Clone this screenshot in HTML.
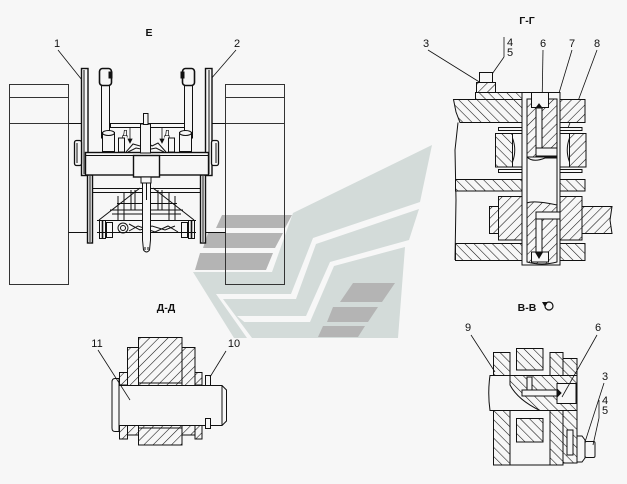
<!DOCTYPE html>
<html><head><meta charset="utf-8">
<style>
html,body{margin:0;padding:0;background:#f7f7f7;}
svg{display:block;}
text{font-family:"Liberation Sans",Arial,sans-serif;fill:#111;}
.t{font-size:10.5px;font-weight:bold;}
.n{font-size:11px;}
</style></head>
<body>
<svg width="627" height="484" viewBox="0 0 627 484" xmlns="http://www.w3.org/2000/svg">
<defs>
<pattern id="hA" width="6.5" height="6.5" patternUnits="userSpaceOnUse" patternTransform="rotate(45)">
<rect width="6.5" height="6.5" fill="#f7f7f7"/><line x1="0" y1="0" x2="0" y2="6.5" stroke="#111" stroke-width="1.1"/></pattern>
<pattern id="hB" width="6.5" height="6.5" patternUnits="userSpaceOnUse" patternTransform="rotate(-45)">
<rect width="6.5" height="6.5" fill="#f7f7f7"/><line x1="0" y1="0" x2="0" y2="6.5" stroke="#111" stroke-width="1.1"/></pattern>
</defs>
<rect width="627" height="484" fill="#f7f7f7"/>

<!-- watermark logo -->
<g fill="#d3dbd9">
<polygon points="432,145 293,213 272,272 193,272 234,338 247,338 216,294 291,294 313,238 420,202"/>
<polygon points="419,209 316,244 296,299 223,299 252,338 264,338 237,316 306,316 330,262 409,240"/>
<polygon points="405,247 334,266 310,322 244,322 258,338 398,338"/>
</g>
<g fill="#b4b4b4">
<polygon points="222,215 292,215 285,228 216,228"/>
<polygon points="208,233 283,233 275,248 203,248"/>
<polygon points="200,253 273,253 266,270 195,270"/>
<polygon points="353,283 395,283 382,302 340,302"/>
<polygon points="333,307 378,307 368,322 327,322"/>
<polygon points="323,326 365,326 358,337 318,337"/>
</g>

<!-- ============ VIEW E ============ -->
<text class="t" x="149" y="36" text-anchor="middle">Е</text>
<text class="n" x="57" y="47" text-anchor="middle">1</text>
<text class="n" x="237" y="47" text-anchor="middle">2</text>
<g stroke="#111" stroke-width="0.8" fill="none">
<line x1="58" y1="50" x2="82" y2="80"/>
<line x1="236" y1="50" x2="210" y2="80"/>
</g>
<g stroke="#333" stroke-width="1" fill="none">
<rect x="9.5" y="84.5" width="59" height="200"/>
<line x1="9.5" y1="97.5" x2="68.5" y2="97.5"/>
<line x1="9.5" y1="123.5" x2="68.5" y2="123.5"/>
<rect x="225.5" y="84.5" width="59" height="200"/>
<line x1="225.5" y1="97.5" x2="284.5" y2="97.5"/>
<line x1="225.5" y1="123.5" x2="284.5" y2="123.5"/>
</g>
<g stroke="#111" stroke-width="1" fill="#f7f7f7">
<line x1="68.5" y1="123.5" x2="82" y2="123.5"/>
<line x1="212" y1="123.5" x2="225.5" y2="123.5"/>
<line x1="68.5" y1="232.5" x2="88" y2="232.5"/>
<line x1="205" y1="232.5" x2="225.5" y2="232.5"/>
<!-- lower frame -->
<line x1="92" y1="188.5" x2="200" y2="188.5"/>
<line x1="92" y1="192.5" x2="200" y2="192.5"/>
<line x1="97" y1="220.5" x2="196" y2="220.5"/>
<line x1="117" y1="203.5" x2="177" y2="203.5"/>
<line x1="140" y1="188" x2="99" y2="220"/>
<line x1="153" y1="188" x2="194" y2="220"/>
<line x1="118" y1="196" x2="118" y2="220"/>
<line x1="124" y1="192" x2="124" y2="220"/>
<line x1="131" y1="190" x2="131" y2="210"/>
<line x1="135" y1="190" x2="135" y2="210"/>
<line x1="158" y1="190" x2="158" y2="210"/>
<line x1="162" y1="190" x2="162" y2="210"/>
<line x1="169" y1="192" x2="169" y2="220"/>
<line x1="175" y1="196" x2="175" y2="220"/>
<line x1="110" y1="210" x2="183" y2="210"/>
<line x1="112" y1="214" x2="181" y2="214"/>
<rect x="99.5" y="220.5" width="6" height="18"/>
<rect x="106.5" y="222.5" width="6" height="15"/>
<line x1="102.5" y1="221" x2="102.5" y2="238" stroke-width="1.6"/>
<rect x="181.5" y="222.5" width="6" height="15"/>
<rect x="188.5" y="220.5" width="6" height="18"/>
<line x1="191.5" y1="221" x2="191.5" y2="238" stroke-width="1.6"/>
<circle cx="123" cy="228" r="5"/>
<circle cx="123" cy="228" r="2.5"/>
<path d="M129 224 L140 230 L152 226 L165 230 L175 226"/>
<path d="M129 231 L138 226 L155 232 L168 226 L178 232" fill="none"/>
<line x1="97" y1="232.5" x2="196" y2="232.5"/>
<!-- plates -->
<rect x="81.5" y="68.5" width="6.5" height="107" stroke-width="1.4"/>
<line x1="84" y1="70" x2="84" y2="174"/>
<rect x="87.5" y="175" width="5" height="68" stroke-width="1.4"/>
<line x1="90" y1="176" x2="90" y2="242"/>
<rect x="205.5" y="68.5" width="6.5" height="107" stroke-width="1.4"/>
<line x1="209" y1="70" x2="209" y2="174"/>
<rect x="200.5" y="175" width="5" height="68" stroke-width="1.4"/>
<line x1="203" y1="176" x2="203" y2="242"/>
<rect x="74.5" y="140.5" width="7" height="25" rx="2" stroke-width="1.3"/>
<line x1="77" y1="143" x2="77" y2="163"/>
<rect x="211.5" y="140.5" width="7" height="25" rx="2" stroke-width="1.3"/>
<line x1="216" y1="143" x2="216" y2="163"/>
<!-- links -->
<rect x="101.5" y="80" width="8" height="58"/>
<rect x="99.5" y="68.5" width="12" height="17" rx="3" stroke-width="1.6"/>
<rect x="109" y="72" width="3" height="6" fill="#111"/>
<rect x="184.5" y="80" width="8" height="58"/>
<rect x="182.5" y="68.5" width="12" height="17" rx="3" stroke-width="1.6"/>
<rect x="181" y="72" width="3" height="6" fill="#111"/>
<rect x="110.5" y="123.5" width="74" height="4"/>
<!-- bearing pillars -->
<rect x="102.5" y="132.5" width="12" height="19"/>
<ellipse cx="108.5" cy="133" rx="6" ry="2.5"/>
<rect x="179.5" y="132.5" width="12" height="19"/>
<ellipse cx="185.5" cy="133" rx="6" ry="2.5"/>
<rect x="118.5" y="138" width="6" height="14"/>
<rect x="168.5" y="138" width="6" height="14"/>
<path d="M126 152 L133 144 L140 146 L146 141 L152 146 L158 143 L166 152" fill="none"/>
<path d="M128 152 L136 148 L146 150 L156 148 L164 152" fill="none"/>
<!-- crossbeam -->
<rect x="85.5" y="152.5" width="123" height="22.5" stroke-width="1.4"/>
<line x1="86" y1="155.5" x2="208" y2="155.5"/>
<!-- center rod -->
<rect x="140.5" y="124" width="10" height="29"/>
<rect x="143.5" y="113.5" width="4.5" height="11"/>
<rect x="133.5" y="155.5" width="26" height="21.5" stroke-width="1.4"/>
<rect x="141" y="177" width="10" height="6"/>
<path d="M142.5 183 L142.5 240 L143.5 250 Q146.5 254 149.5 250 L150.5 240 L150.5 183 Z"/>
<line x1="145" y1="247" x2="145" y2="250"/>
<line x1="148" y1="247" x2="148" y2="250"/>
<line x1="146.5" y1="183" x2="146.5" y2="200"/>
</g>
<text x="125" y="136" font-size="8" text-anchor="middle">Д</text>
<text x="167" y="136" font-size="8" text-anchor="middle">Д</text>
<g stroke="#111" stroke-width="0.8" fill="#111">
<line x1="130" y1="127" x2="130" y2="141"/>
<polygon points="128,139 132,139 130,143"/>
<line x1="162" y1="127" x2="162" y2="141"/>
<polygon points="160,139 164,139 162,143"/>
</g>

<!-- ============ VIEW Г-Г ============ -->
<text class="t" x="527" y="24" text-anchor="middle">Г-Г</text>
<text class="n" x="426" y="47" text-anchor="middle">3</text>
<text class="n" x="510" y="46" text-anchor="middle">4</text>
<text class="n" x="510" y="56" text-anchor="middle">5</text>
<text class="n" x="543" y="47" text-anchor="middle">6</text>
<text class="n" x="572" y="47" text-anchor="middle">7</text>
<text class="n" x="597" y="47" text-anchor="middle">8</text>
<g stroke="#111" stroke-width="0.8" fill="none">
<line x1="504" y1="37" x2="504" y2="57"/>
<line x1="428" y1="50" x2="481" y2="83"/>
<line x1="504" y1="57" x2="490" y2="77"/>
<line x1="543" y1="50" x2="542" y2="108"/>
<line x1="572" y1="50" x2="553" y2="113"/>
<line x1="597" y1="50" x2="568" y2="128"/>
</g>
<g stroke="#111" stroke-width="1">
<rect x="479.5" y="72.5" width="13" height="10" fill="#f7f7f7"/>
<rect x="476.5" y="82.5" width="19" height="10" fill="url(#hA)"/>
<rect x="475.5" y="92.5" width="47" height="7" fill="url(#hB)"/>
<path d="M453.5 99.5 L522 99.5 L522 122.5 L460 122.5 L456 112 Z" fill="url(#hB)"/>
<rect x="560" y="99.5" width="25" height="23" fill="url(#hA)"/>
<path d="M458 122.5 L455 150 L456 200 L455 260" fill="none"/>
<!-- bearings -->
<rect x="498.5" y="127.5" width="23.5" height="3" fill="#f7f7f7"/>
<rect x="498.5" y="169.5" width="23.5" height="3" fill="#f7f7f7"/>
<rect x="495.5" y="133.5" width="17" height="33.5" fill="url(#hB)"/>
<rect x="512.5" y="133.5" width="9.5" height="33.5" fill="#f7f7f7"/>
<path d="M512.5 138 Q517 150 512.5 162" fill="none"/>
<rect x="560" y="127.5" width="22" height="3" fill="#f7f7f7"/>
<rect x="560" y="169.5" width="22" height="3" fill="#f7f7f7"/>
<rect x="569.5" y="133.5" width="16.5" height="33.5" fill="url(#hA)"/>
<rect x="560" y="133.5" width="9.5" height="33.5" fill="#f7f7f7"/>
<path d="M569.5 138 Q565 150 569.5 162" fill="none"/>
<!-- bands -->
<rect x="455.5" y="179.5" width="66.5" height="11.5" fill="url(#hB)"/>
<rect x="560" y="179.5" width="25" height="11.5" fill="url(#hB)"/>
<rect x="489.5" y="206.5" width="10" height="27" fill="url(#hA)"/>
<rect x="498.5" y="196.5" width="23.5" height="43.5" fill="url(#hA)"/>
<rect x="560" y="196.5" width="22" height="43.5" fill="url(#hA)"/>
<path d="M582 206.5 L612 206.5 L610 220 L612 233.5 L582 233.5 Z" fill="url(#hA)"/>
<rect x="455.5" y="243.5" width="66.5" height="17" fill="url(#hB)"/>
<rect x="560" y="243.5" width="25" height="17" fill="url(#hB)"/>
<!-- shaft -->
<rect x="522" y="92.5" width="38" height="172.5" fill="#f7f7f7"/>
<rect x="527" y="99" width="30" height="58" fill="url(#hA)"/>
<path d="M527 203 Q534 200 557 205 L557 262 Q542 266 527 262 Z" fill="url(#hA)"/>
<path d="M527 157 Q533 163 545 158 L557 158" fill="none"/>
<line x1="527" y1="99" x2="527" y2="262"/>
<line x1="557" y1="99" x2="557" y2="262"/>
<rect x="531.5" y="92.5" width="17" height="15" fill="#f7f7f7"/>
<rect x="536" y="108" width="6" height="47" fill="#f7f7f7"/>
<rect x="536" y="148" width="21" height="8" fill="#f7f7f7"/>
<rect x="536" y="212" width="6" height="40" fill="#f7f7f7"/>
<rect x="536" y="212" width="24" height="7" fill="#f7f7f7"/>
<rect x="531.5" y="252" width="17" height="10" fill="#f7f7f7"/>
<polygon points="536,108 542,108 539,104" fill="#111"/>
<polygon points="536,253 542,253 539,258" fill="#111"/>
</g>

<!-- ============ VIEW Д-Д ============ -->
<text class="t" x="166" y="311" text-anchor="middle">Д-Д</text>
<text class="n" x="97" y="347" text-anchor="middle">11</text>
<text class="n" x="234" y="347" text-anchor="middle">10</text>
<g stroke="#111" stroke-width="1">
<rect x="138.5" y="337.5" width="43.5" height="107.5" fill="url(#hA)"/>
<rect x="127.5" y="347.5" width="11" height="87.5" fill="url(#hA)"/>
<rect x="182" y="347.5" width="13" height="87.5" fill="url(#hA)"/>
<rect x="119.5" y="372.5" width="8" height="12.5" fill="url(#hA)"/>
<rect x="119.5" y="425" width="8" height="14" fill="url(#hA)"/>
<rect x="195" y="372.5" width="7" height="12.5" fill="url(#hA)"/>
<rect x="195" y="425" width="7" height="14" fill="url(#hA)"/>
<path d="M119 385.5 L222 385.5 L226.5 390 L226.5 421 L222 425.5 L119 425.5 Z" fill="#f7f7f7"/>
<line x1="222" y1="385.5" x2="222" y2="425.5"/>
<path d="M119 378.5 L115 378.5 Q112 378.5 112 382 L112 428 Q112 431.5 115 431.5 L119 431.5 Z" fill="#f7f7f7"/>
<rect x="205.5" y="375.5" width="5" height="10" fill="#f7f7f7"/>
<rect x="205.5" y="418.5" width="5" height="10" fill="#f7f7f7"/>
<line x1="138.5" y1="383" x2="182" y2="383"/>
<line x1="138.5" y1="428" x2="182" y2="428"/>
</g>
<g stroke="#111" stroke-width="0.8">
<line x1="98" y1="350" x2="130" y2="400"/>
<line x1="226" y1="351" x2="210" y2="377"/>
</g>

<!-- ============ VIEW В-В ============ -->
<text class="t" x="527" y="311" text-anchor="middle">В-В</text>
<g stroke="#111" stroke-width="1.2" fill="none">
<circle cx="549" cy="306" r="4"/>
</g>
<polygon points="542,302 548,302 545,307" fill="#111"/>
<text class="n" x="468" y="331" text-anchor="middle">9</text>
<text class="n" x="598" y="331" text-anchor="middle">6</text>
<text class="n" x="605" y="380" text-anchor="middle">3</text>
<text class="n" x="605" y="404" text-anchor="middle">4</text>
<text class="n" x="605" y="414" text-anchor="middle">5</text>
<g stroke="#111" stroke-width="1">
<rect x="493.5" y="352.5" width="16.5" height="112.5" fill="url(#hB)"/>
<rect x="516.5" y="348.5" width="26.5" height="21.5" fill="url(#hB)"/>
<rect x="516.5" y="418.5" width="26.5" height="23.5" fill="url(#hB)"/>
<rect x="550" y="352.5" width="13" height="112.5" fill="url(#hB)"/>
<rect x="563" y="358.5" width="14" height="104.5" fill="url(#hB)"/>
<rect x="567" y="430" width="6" height="25" fill="#f7f7f7"/>
<line x1="493.5" y1="465" x2="563" y2="465"/>
<path d="M490 375.5 L577 375.5 L577 410.5 L490 410.5 Q487.5 393 490 375.5 Z" fill="#f7f7f7"/>
<path d="M510 375.5 L577 375.5 L577 410.5 L540 410.5 Q518 400 510 385 Z" fill="url(#hB)"/>
<rect x="527" y="377" width="5" height="14" fill="#f7f7f7"/>
<rect x="522" y="390" width="35" height="6" fill="#f7f7f7"/>
<rect x="557" y="383.5" width="19" height="20" fill="#f7f7f7"/>
<polygon points="557,389 561,393 557,397" fill="#111"/>
<path d="M577 436 L582 436 L585 440 L585 458 L582 462 L577 462 Z" fill="#f7f7f7"/>
<rect x="585" y="441.5" width="10" height="16" rx="1.5" fill="#f7f7f7"/>
</g>
<g stroke="#111" stroke-width="0.8">
<line x1="599" y1="400" x2="599" y2="418"/>
<line x1="471" y1="335" x2="495" y2="372"/>
<line x1="597" y1="335" x2="562" y2="397"/>
<line x1="604" y1="383" x2="585" y2="442"/>
<line x1="599" y1="418" x2="593" y2="445"/>
</g>
</svg>
</body></html>
